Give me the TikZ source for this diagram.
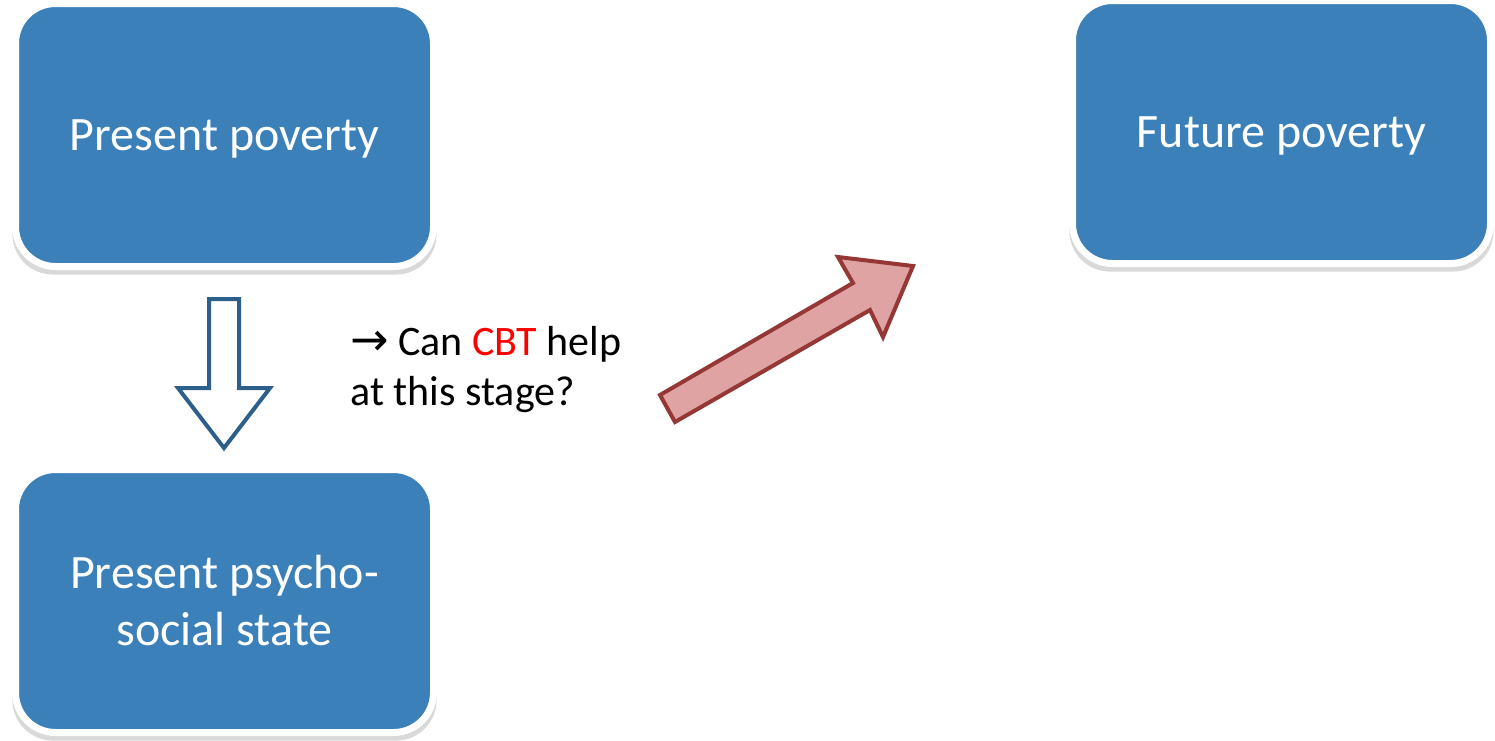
\documentclass[tikz,border=0pt]{standalone}
\usepackage{fontspec}
\setmainfont{Carlito}
\newfontfamily\arrowfont{DejaVu Sans}
\usetikzlibrary{shadows}
\definecolor{boxblue}{HTML}{3B80B9}
\definecolor{arrowblue}{HTML}{2C5F8A}
\definecolor{arrowred}{HTML}{953735}
\definecolor{pinkfill}{HTML}{DFA3A3}
\begin{document}
\begin{tikzpicture}[x=0.5pt,y=-0.5pt,line join=miter,
	box/.style={rounded corners=20pt,fill=boxblue,draw=white,line width=3.5pt,
		minimum width=209pt,minimum height=131.5pt,text=white,align=center,
		font=\fontsize{24}{28.5}\selectfont,
		drop shadow={shadow xshift=0pt,shadow yshift=-3pt,shadow scale=1.015,opacity=.3}},
	note/.style={align=left,font=\fontsize{21}{25}\selectfont,inner sep=0pt}]
				\useasboundingbox (0,0) rectangle (1495,740);
				% boxes
				\node[box,text depth=0pt] (pp) at (224.5,135) {Present poverty};
				\node[box,text depth=0pt] (fp) at (1281.5,132) {Future poverty};
				\node[box] (ps) at (224.5,601) {Present psycho-\\social state};
				% down arrow
				\draw[arrowblue,fill=white,line width=2pt] (209,299)--(239,299)--(239,388)--(270,388)
					--(224,448)--(178,388)--(209,388)--cycle;
				% question
				\node[note,anchor=base west] (q) at (350,405) {{\arrowfont\fontsize{23}{25}\selectfont →} Can \textcolor{red}{CBT} help\\at this stage?};
				% red arrow
				\draw[arrowred,fill=pinkfill,line width=2pt] (660,395)--(853,283)--(838,257)--(913,266)
					--(883,337)--(870,310)--(675,422)--cycle;
			\end{tikzpicture}
\end{document}
